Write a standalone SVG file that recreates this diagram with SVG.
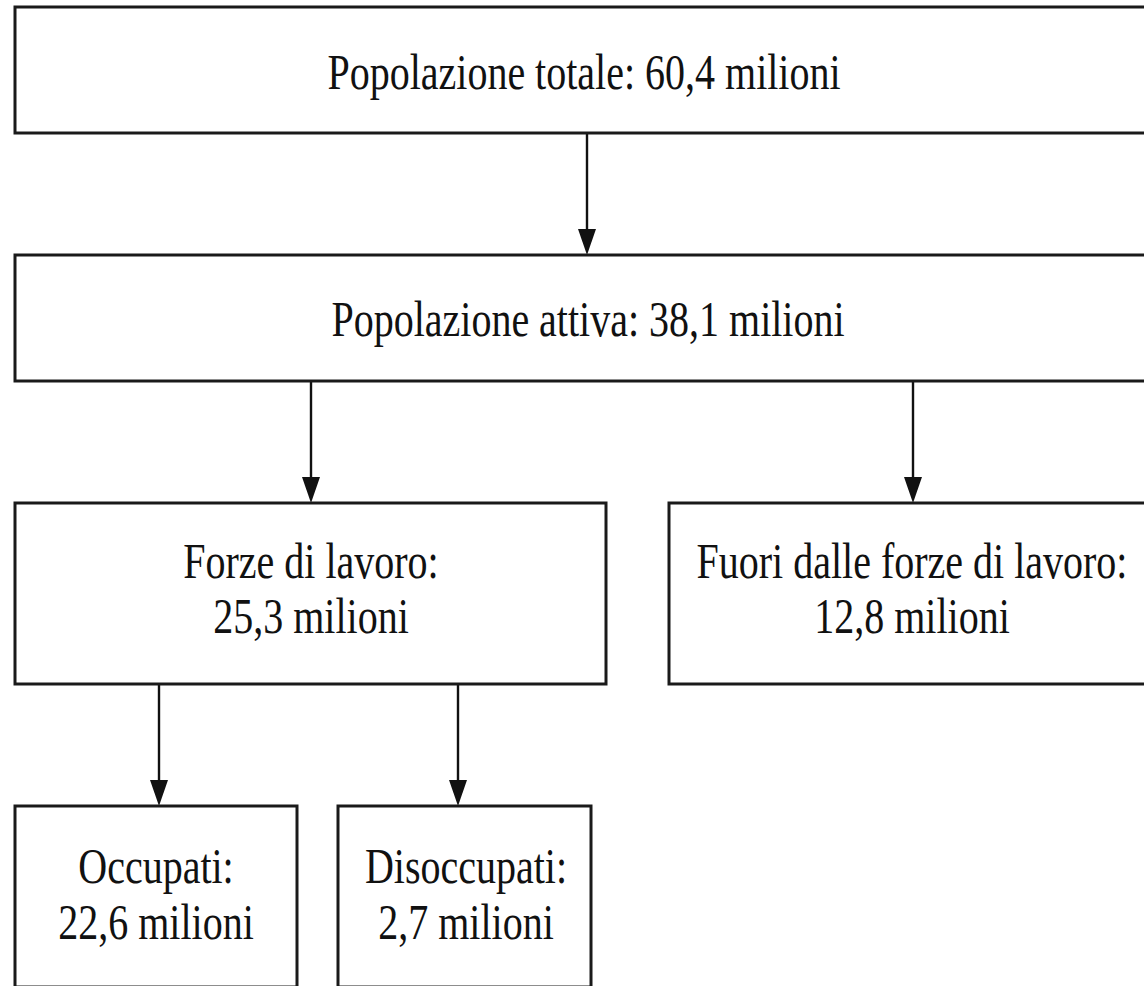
<svg xmlns="http://www.w3.org/2000/svg" width="1144" height="986" viewBox="0 0 1144 986">
<style>
.box{fill:#fff;stroke:#1a1a1a;stroke-width:3}
.lbl{font-family:"Liberation Serif","DejaVu Serif",serif;font-size:50px;fill:#111;text-anchor:middle}
.conn{stroke:#111;stroke-width:2.4;fill:none}
.head{fill:#111}
</style>
<rect x="0" y="0" width="1144" height="986" fill="#fff"/>
<g id="connectors">
<line class="conn" x1="587" y1="133" x2="587" y2="235"/>
<polygon class="head" points="578,229 596,229 587,255"/>
<line class="conn" x1="311" y1="381" x2="311" y2="483"/>
<polygon class="head" points="302,477 320,477 311,503"/>
<line class="conn" x1="913" y1="381" x2="913" y2="483"/>
<polygon class="head" points="904,477 922,477 913,503"/>
<line class="conn" x1="159" y1="684" x2="159" y2="786"/>
<polygon class="head" points="150,780 168,780 159,806"/>
<line class="conn" x1="458" y1="684" x2="458" y2="786"/>
<polygon class="head" points="449,780 467,780 458,806"/>
</g>
<g id="totale">
<rect class="box" x="15" y="7" width="1140" height="126"/>
<text class="lbl" transform="translate(584,89) scale(0.8,1)">Popolazione totale: 60,4 milioni</text>
</g>
<g id="attiva">
<rect class="box" x="15" y="255" width="1140" height="126"/>
<text class="lbl" transform="translate(588,336) scale(0.8,1)">Popolazione attiva: 38,1 milioni</text>
</g>
<g id="forze">
<rect class="box" x="15" y="503" width="591" height="181"/>
<text class="lbl" transform="translate(311,578) scale(0.8,1)">Forze di lavoro:</text>
<text class="lbl" transform="translate(311,633) scale(0.8,1)">25,3 milioni</text>
</g>
<g id="fuori">
<rect class="box" x="669" y="503" width="490" height="181"/>
<text class="lbl" transform="translate(912,578) scale(0.8,1)">Fuori dalle forze di lavoro:</text>
<text class="lbl" transform="translate(912,633) scale(0.8,1)">12,8 milioni</text>
</g>
<g id="occupati">
<rect class="box" x="15" y="806" width="282" height="181"/>
<text class="lbl" transform="translate(156,883) scale(0.8,1)">Occupati:</text>
<text class="lbl" transform="translate(156,939) scale(0.8,1)">22,6 milioni</text>
</g>
<g id="disoccupati">
<rect class="box" x="338" y="806" width="253" height="181"/>
<text class="lbl" transform="translate(466,883) scale(0.8,1)">Disoccupati:</text>
<text class="lbl" transform="translate(466,939) scale(0.8,1)">2,7 milioni</text>
</g>
</svg>
